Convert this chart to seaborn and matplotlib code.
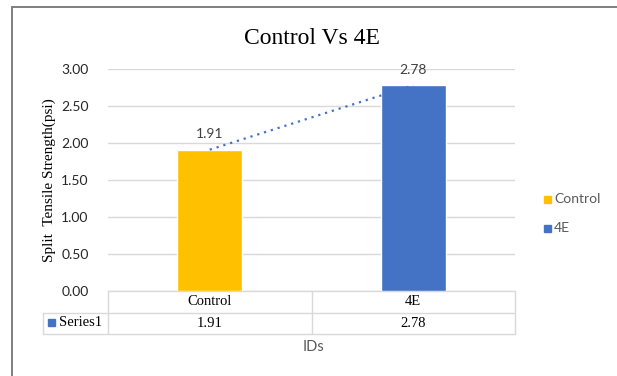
import matplotlib
matplotlib.use("Agg")
import matplotlib.pyplot as plt
import seaborn as sns
import pandas as pd
from matplotlib.lines import Line2D
from matplotlib.patches import Rectangle

# === Data ===
categories = ["Control", "4E"]
strength = [1.91, 2.78]
bar_colors = ["#FFC000", "#4472C4"]
yticks = [0.0, 0.5, 1.0, 1.5, 2.0, 2.5, 3.0]
series_name = "Series1"

df = pd.DataFrame({"ID": categories, "Strength": strength})

sns.set_style("white")
plt.rcParams["font.family"] = ["Lato", "DejaVu Sans"]

W, H = 617, 376
fig = plt.figure(figsize=(W / 100, H / 100), dpi=100)


def fx(px):
    return px / W


def fy(py):
    return 1 - py / H


# outer chart frame: only top and left edges are inside the picture
fig.add_artist(Line2D([fx(12), 1.02], [fy(7), fy(7)], color="#7F7F7F",
                      linewidth=1.4, transform=fig.transFigure))
fig.add_artist(Line2D([fx(12), fx(12)], [-0.02, fy(7)], color="#7F7F7F",
                      linewidth=1.4, transform=fig.transFigure))

ax = fig.add_axes([fx(108), fy(291), fx(407), 222 / H])

sns.barplot(data=df, x="ID", y="Strength", hue="ID", palette=bar_colors,
            saturation=1, width=0.32, ax=ax, legend=False, zorder=3)

# dotted linear trendline through the series
sns.lineplot(x=[0, 1], y=strength, ax=ax, color="#4472C4", linestyle=(0, (1, 2.2)),
             linewidth=1.6, zorder=4)

# data labels
for i, v in enumerate(strength):
    ax.annotate(f"{v:.2f}", (i, v), xytext=(0, 7), textcoords="offset points",
                ha="center", va="bottom", fontsize=10, color="#404040")

ax.set_ylim(0, 3.0)
ax.set_xlim(-0.5, 1.5)
ax.set_yticks(yticks)
ax.set_yticklabels([f"{t:.2f}" for t in yticks], fontsize=10, color="#262626")
ax.tick_params(axis="y", length=0, pad=14)
ax.set_xticks([])
ax.set_xlabel("")
ax.yaxis.grid(True, color="#D9D9D9", linewidth=1)
ax.set_axisbelow(True)
for s in ax.spines.values():
    s.set_visible(False)

ax.set_ylabel("Split  Tensile Strength(psi)", family="Liberation Serif",
              fontsize=11, color="#000000", labelpad=4)

ax.set_title("Control Vs 4E", family="Liberation Serif", fontsize=17,
             color="#000000", pad=18)

# data table under the axis (axis x-coords, axes-fraction y)
trans = ax.get_xaxis_transform()
row_h = 21.5 / 222
grid_kw = dict(color="#D9D9D9", linewidth=1, clip_on=False, transform=trans)
lbl_left = -0.5 - 65 / 203.5
ax.plot([-0.5, 1.5], [0, 0], **grid_kw)
ax.plot([lbl_left, 1.5], [-row_h, -row_h], **grid_kw)
ax.plot([lbl_left, 1.5], [-2 * row_h, -2 * row_h], **grid_kw)
for xv in [-0.5, 0.5, 1.5]:
    ax.plot([xv, xv], [0, -2 * row_h], **grid_kw)
ax.plot([lbl_left, lbl_left], [-row_h, -2 * row_h], **grid_kw)

for i, (name, v) in enumerate(zip(categories, strength)):
    ax.text(i, -0.5 * row_h, name, transform=trans, ha="center", va="center",
            family="Liberation Serif", fontsize=10.5, color="#000000")
    ax.text(i, -1.5 * row_h, f"{v:.2f}", transform=trans, ha="center",
            va="center", family="Liberation Serif", fontsize=10.5, color="#000000")

fig.patches.append(Rectangle((fx(48), fy(326)), 7 / W, 7 / H,
                             transform=fig.transFigure, color="#4472C4"))
fig.text(fx(59), fy(322.5), series_name, ha="left", va="center",
         family="Liberation Serif", fontsize=10.5, color="#000000")

fig.text(fx(313), fy(347), "IDs", ha="center", va="center",
         fontsize=10.5, color="#595959")

# legend
for k, (name, col) in enumerate(zip(categories, bar_colors)):
    y = fy(199 + 29 * k)
    fig.patches.append(Rectangle((fx(544), y - 3.5 / H), 7 / W, 7 / H,
                                 transform=fig.transFigure, color=col))
    fig.text(fx(554), y, name, ha="left", va="center", fontsize=10,
             color="#595959")

fig.savefig("out.png", dpi=100, facecolor="white", edgecolor="none")
